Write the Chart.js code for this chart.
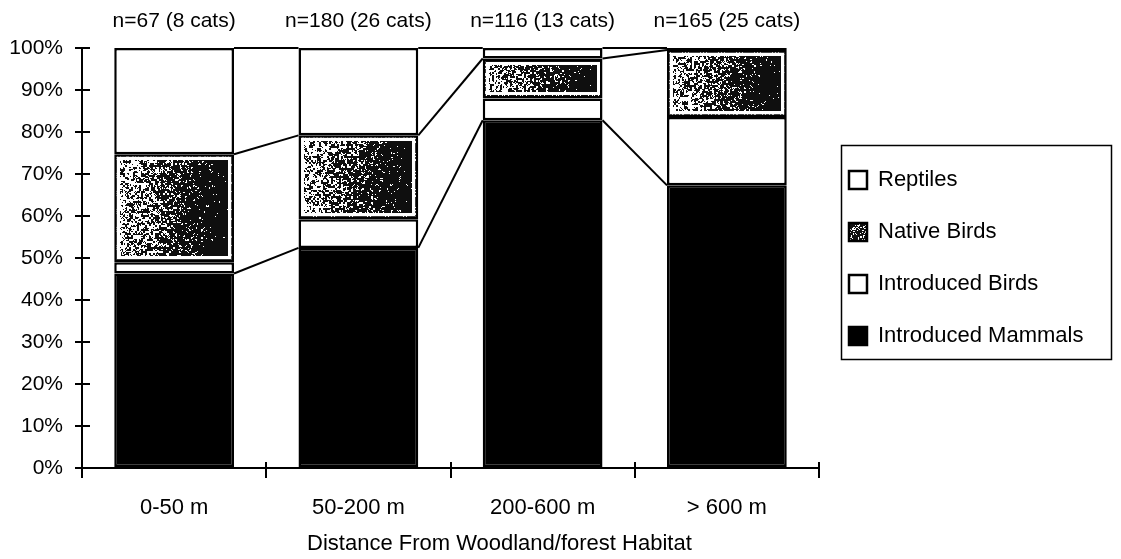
<!DOCTYPE html>
<html>
<head>
<meta charset="utf-8">
<title>Prey composition by distance from woodland</title>
<script src="https://cdn.jsdelivr.net/npm/chart.js@4.4.1/dist/chart.umd.min.js"></script>
<style>
  body { margin: 0; background: #fff; }
  #wrap { width: 1121px; height: 559px; }
</style>
</head>
<body>
<div id="wrap"><canvas id="chart" width="1121" height="559"></canvas></div>
<script>
// data (percent of prey items)
const categories = ['0-50 m', '50-200 m', '200-600 m', '> 600 m'];
const sampleSizes = ['n=67 (8 cats)', 'n=180 (26 cats)', 'n=116 (13 cats)', 'n=165 (25 cats)'];
const introducedMammals = [46.3, 52.4, 82.8, 67.3];
const introducedBirds = [2.7, 6.8, 5.2, 16.3];
const nativeBirds = [25.7, 20.0, 9.5, 15.9];
const reptiles = [25.3, 20.8, 2.5, 0.5];
const yTicks = [0, 10, 20, 30, 40, 50, 60, 70, 80, 90, 100];
const xTitle = 'Distance From Woodland/forest Habitat';

const FONT = '"Liberation Sans", Arial, Helvetica, sans-serif';
Chart.defaults.font.family = FONT;
Chart.defaults.color = '#000';

// cheap deterministic grain for the scanned stipple look
function grain(i, j) {
  let h = Math.imul(i, 374761393) + Math.imul(j, 668265263);
  h = Math.imul(h ^ (h >>> 13), 1274126177);
  h = h ^ (h >>> 16);
  return (h >>> 0) / 4294967296;
}

function stipplePattern() {
  const c = document.createElement('canvas');
  c.width = 18; c.height = 18;
  const g = c.getContext('2d');
  g.fillStyle = '#fff';
  g.fillRect(0, 0, 18, 18);
  g.fillStyle = '#111';
  for (let j = 0; j < 18; j++) {
    for (let i = 0; i < 18; i++) {
      if (grain(i + 31, j + 57) < 0.78) g.fillRect(i, j, 1, 1);
    }
  }
  return g.createPattern(c, 'repeat');
}

// fills the native birds segments with grain, darker towards the right
const stipple = {
  id: 'stipple',
  afterDatasetDraw(chart, args) {
    if (args.index !== 2) return;
    const ctx = chart.ctx;
    args.meta.data.forEach((bar, k) => {
      const p = bar.getProps(['x', 'y', 'base', 'width'], true);
      const left = Math.round(p.x - p.width / 2) + 3;
      const right = Math.round(p.x + p.width / 2) - 3;
      const top = Math.round(Math.min(p.y, p.base)) + 3;
      const bottom = Math.round(Math.max(p.y, p.base)) - 3;
      const w = right - left, h = bottom - top;
      if (w <= 0 || h <= 0) return;
      const img = ctx.createImageData(w, h);
      for (let j = 0; j < h; j++) {
        for (let i = 0; i < w; i++) {
          let v = 255;
          if (i >= 3 && j >= 3 && i < w - 3 && j < h - 3) {
            const t = i / w;
            const q = 0.35 * grain(i + k * 1000, j) + 0.65 * grain((i >> 1) + 7777, (j >> 1) + k * 500);
            if (q < 0.38 + 0.6 * t) v = 15;
          }
          const o = (j * w + i) * 4;
          img.data[o] = img.data[o + 1] = img.data[o + 2] = v;
          img.data[o + 3] = 255;
        }
      }
      ctx.putImageData(img, left, top);
    });
  }
};

// Excel style series lines between neighbouring bars
const seriesLines = {
  id: 'seriesLines',
  afterDatasetsDraw(chart) {
    const ctx = chart.ctx;
    ctx.save();
    ctx.strokeStyle = '#000';
    ctx.lineWidth = 2;
    [0, 2, 3].forEach(d => {
      const bars = chart.getDatasetMeta(d).data;
      for (let i = 0; i < bars.length - 1; i++) {
        const a = bars[i], b = bars[i + 1];
        ctx.beginPath();
        ctx.moveTo(a.x + a.width / 2, a.y);
        ctx.lineTo(b.x - b.width / 2, b.y);
        ctx.stroke();
      }
    });
    ctx.restore();
  }
};

// tick marks that cross the axis lines + frame round the legend
const extras = {
  id: 'extras',
  afterDraw(chart) {
    const { ctx, scales: { x, y } } = chart;
    ctx.save();
    ctx.strokeStyle = '#000';
    ctx.lineWidth = 2;
    y.ticks.forEach(t => {
      const py = Math.round(y.getPixelForValue(t.value));
      ctx.beginPath(); ctx.moveTo(y.right, py); ctx.lineTo(y.right + 8, py); ctx.stroke();
    });
    for (let i = 0; i <= categories.length; i++) {
      const px = Math.round(x.getPixelForValue(i - 0.5));
      ctx.beginPath(); ctx.moveTo(px, x.top); ctx.lineTo(px, x.top - 6); ctx.stroke();
    }
    const boxes = chart.legend.legendHitBoxes;
    const l = Math.min(...boxes.map(b => b.left)) - 8;
    const r = Math.max(...boxes.map(b => b.left + b.width)) + 28;
    const t = Math.min(...boxes.map(b => b.top)) - 24;
    const btm = Math.max(...boxes.map(b => b.top + b.height)) + 12;
    ctx.lineWidth = 1.5;
    ctx.strokeRect(Math.round(l) + 0.5, Math.round(t) + 0.5, Math.round(r - l), Math.round(btm - t));
    ctx.restore();
  }
};

const barStyle = {
  borderColor: '#000',
  borderWidth: 2.5,
  borderSkipped: false,
  barPercentage: 0.65,
  categoryPercentage: 1
};

const data = {
  labels: categories,
  datasets: [
    { label: 'Introduced Mammals', data: introducedMammals, backgroundColor: '#000', ...barStyle },
    { label: 'Introduced Birds', data: introducedBirds, backgroundColor: '#fff', ...barStyle },
    { label: 'Native Birds', data: nativeBirds, backgroundColor: stipplePattern(), ...barStyle },
    { label: 'Reptiles', data: reptiles, backgroundColor: '#fff', ...barStyle }
  ]
};

const myChart = new Chart(document.getElementById('chart'), {
  type: 'bar',
  data,
  plugins: [stipple, seriesLines, extras],
  options: {
    responsive: false,
    animation: false,
    events: [],
    layout: { padding: { left: 0, right: 29, top: 0, bottom: 0 } },
    plugins: {
      tooltip: { enabled: false },
      legend: {
        position: 'right',
        fullSize: false,
        reverse: true,
        labels: { boxWidth: 18, boxHeight: 18, padding: 30, font: { size: 22 }, color: '#000' }
      }
    },
    scales: {
      x: {
        stacked: true,
        grid: { drawOnChartArea: false, drawTicks: true, tickLength: 10, color: '#000', lineWidth: 2 },
        border: { color: '#000', width: 2 },
        ticks: { font: { size: 22 }, padding: 17 },
        title: {
          display: true,
          text: '\u00a0'.repeat(16) + xTitle,
          font: { size: 22 },
          padding: { top: 0, bottom: 2 }
        },
        afterFit: s => { s.height = 91; }
      },
      x2: {
        type: 'category',
        position: 'top',
        labels: sampleSizes,
        offset: true,
        grid: { display: false },
        border: { display: false },
        ticks: { font: { size: 21 }, padding: 6 },
        afterFit: s => { s.height = 48; }
      },
      y: {
        stacked: true,
        min: 0,
        max: 100,
        afterBuildTicks: s => { s.ticks = yTicks.map(v => ({ value: v })); },
        ticks: { font: { size: 21 }, padding: 12, callback: v => v + '%' },
        grid: { drawOnChartArea: false, tickLength: 7, color: '#000', lineWidth: 2 },
        border: { color: '#000', width: 2 },
        afterFit: s => { s.width = 82; }
      }
    }
  }
});
</script>
</body>
</html>
